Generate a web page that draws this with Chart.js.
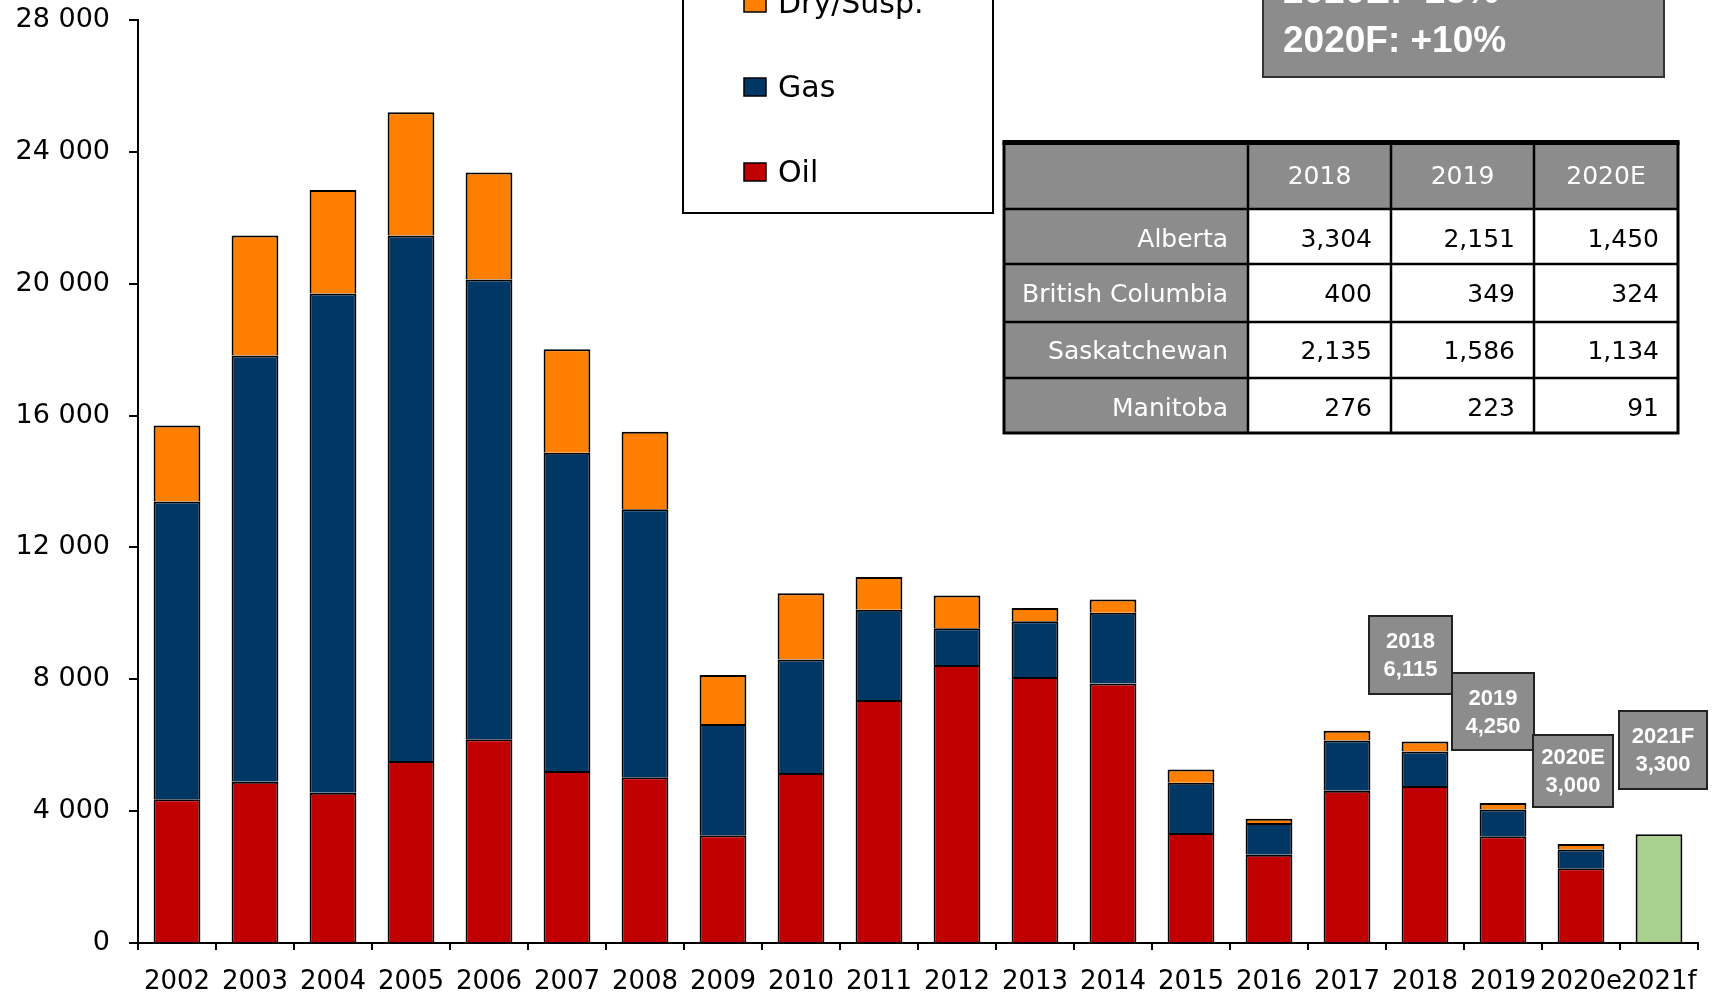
<!DOCTYPE html>
<html>
<head>
<meta charset="utf-8">
<script src="https://cdn.jsdelivr.net/npm/chart.js@4.4.1/dist/chart.umd.min.js"></script>
<style>
  html, body { margin: 0; padding: 0; background: #ffffff; }
  #wrap { width: 1713px; height: 993px; position: relative; }
</style>
</head>
<body>
<div id="wrap"><canvas id="c" width="1713" height="993"></canvas></div>
<script>
// ---- data ----
const categories = ['2002','2003','2004','2005','2006','2007','2008','2009','2010','2011','2012','2013','2014','2015','2016','2017','2018','2019','2020e','2021f'];
const oilWells = [4360,4890,4560,5520,6180,5220,5030,3270,5160,7370,8430,8070,7870,3340,2680,4620,4760,3240,2270,null];
const gasWells = [9030,12930,15140,15940,13950,9650,8130,3370,3440,2740,1120,1690,2150,1520,960,1520,1050,810,570,null];
const dryWells = [2310,3640,3140,3740,3240,3140,2350,1490,2010,990,990,400,400,400,130,300,305,200,160,null];
const forecastWells = [null,null,null,null,null,null,null,null,null,null,null,null,null,null,null,null,null,null,null,3300];
const yTickLabels = ['0','4 000','8 000','12 000','16 000','20 000','24 000','28 000'];

const headerLines = ['2020E: -25%', '2020F: +10%'];
const tableYears = ['2018','2019','2020E'];
const provinces = ['Alberta','British Columbia','Saskatchewan','Manitoba'];
const albertaWells = [3304,2151,1450];
const bcWells = [400,349,324];
const saskWells = [2135,1586,1134];
const manitobaWells = [276,223,91];
const calloutYears = ['2018','2019','2020E','2021F'];
const calloutTotals = ['6,115','4,250','3,000','3,300'];

// ---- styles / layout ----
const COL_OIL = '#c00000', COL_GAS = '#003764', COL_DRY = '#ff8000', COL_FC = '#a9d08e';
const GRAY = '#8c8c8c';
const FONT = '"DejaVu Sans", sans-serif';
const BOLD = '"Liberation Sans", Arial, sans-serif';

const overlay = {
  id: 'overlay',
  afterDraw(chart) {
    const ctx = chart.ctx;
    ctx.save();

    // legend box
    ctx.fillStyle = '#fff'; ctx.strokeStyle = '#000'; ctx.lineWidth = 2;
    ctx.fillRect(683, -10, 310, 223); ctx.strokeRect(683, -10, 310, 223);
    const legendOrder = [2, 1, 0]; // dry, gas, oil
    const baselines = [13, 97, 182];
    ctx.font = '30px ' + FONT; ctx.textBaseline = 'alphabetic'; ctx.textAlign = 'left';
    legendOrder.forEach((di, k) => {
      const ds = chart.data.datasets[di];
      const b = baselines[k];
      ctx.fillStyle = ds.backgroundColor; ctx.fillRect(744, b - 19, 22, 18);
      ctx.lineWidth = 1.5; ctx.strokeStyle = '#000'; ctx.strokeRect(744, b - 19, 22, 18);
      ctx.fillStyle = '#000'; ctx.fillText(ds.label, 778, b);
    });

    // top-right box
    ctx.fillStyle = GRAY; ctx.fillRect(1263, -10, 401, 87);
    ctx.strokeStyle = '#333'; ctx.lineWidth = 2; ctx.strokeRect(1263, -10, 401, 87);
    ctx.fillStyle = '#fff'; ctx.font = 'bold 37px ' + BOLD;
    ctx.fillText(headerLines[0], 1283, 3);
    ctx.fillText(headerLines[1], 1283, 52);

    // table
    const cx = [1004, 1248, 1391, 1534, 1678];
    const ry = [143, 209, 264, 322, 378, 433];
    const rows = [albertaWells, bcWells, saskWells, manitobaWells];
    ctx.fillStyle = GRAY;
    ctx.fillRect(cx[0], ry[0], cx[4] - cx[0], ry[1] - ry[0]);
    ctx.fillRect(cx[0], ry[1], cx[1] - cx[0], ry[5] - ry[1]);
    ctx.fillStyle = '#fff';
    ctx.fillRect(cx[1], ry[1], cx[4] - cx[1], ry[5] - ry[1]);
    ctx.strokeStyle = '#000'; ctx.lineWidth = 2.5;
    ctx.beginPath();
    for (let i = 1; i < 5; i++) { ctx.moveTo(cx[0], ry[i]); ctx.lineTo(cx[4], ry[i]); }
    for (let j = 1; j < 4; j++) { ctx.moveTo(cx[j], ry[0]); ctx.lineTo(cx[j], ry[5]); }
    ctx.stroke();
    ctx.lineWidth = 3; ctx.strokeRect(cx[0], ry[0], cx[4] - cx[0], ry[5] - ry[0]);
    ctx.fillStyle = '#000'; ctx.fillRect(cx[0] - 1.5, ry[0] - 3, cx[4] - cx[0] + 3, 5);
    ctx.font = '25px ' + FONT; ctx.textBaseline = 'middle';
    ctx.fillStyle = '#fff'; ctx.textAlign = 'center';
    tableYears.forEach((y, j) => ctx.fillText(y, (cx[j + 1] + cx[j + 2]) / 2, 177));
    const rowMid = [240, 295, 352, 409];
    provinces.forEach((p, i) => {
      ctx.fillStyle = '#fff'; ctx.textAlign = 'right';
      ctx.fillText(p, cx[1] - 20, rowMid[i]);
      ctx.fillStyle = '#000';
      rows[i].forEach((v, j) => ctx.fillText(v.toLocaleString('en-US'), cx[j + 2] - 19, rowMid[i]));
    });

    // callout boxes
    const boxes = [[1369, 616, 1452, 694], [1452, 673, 1534, 750], [1533, 735, 1613, 807], [1619, 711, 1707, 789]];
    ctx.font = 'bold 22px ' + BOLD; ctx.textAlign = 'center'; ctx.textBaseline = 'middle';
    boxes.forEach((b, i) => {
      ctx.fillStyle = GRAY; ctx.fillRect(b[0], b[1], b[2] - b[0], b[3] - b[1]);
      ctx.strokeStyle = '#222'; ctx.lineWidth = 2; ctx.strokeRect(b[0], b[1], b[2] - b[0], b[3] - b[1]);
      const mx = (b[0] + b[2]) / 2, my = (b[1] + b[3]) / 2;
      ctx.fillStyle = '#fff';
      ctx.fillText(calloutYears[i], mx, my - 13);
      ctx.fillText(calloutTotals[i], mx, my + 15);
    });
    ctx.restore();
  }
};

const barCommon = { borderColor: '#000', borderWidth: 2, barPercentage: 0.6, categoryPercentage: 1.0, stack: 's' };

new Chart(document.getElementById('c'), {
  type: 'bar',
  data: {
    labels: categories,
    datasets: [
      Object.assign({ label: 'Oil', data: oilWells, backgroundColor: COL_OIL }, barCommon),
      Object.assign({ label: 'Gas', data: gasWells, backgroundColor: COL_GAS }, barCommon),
      Object.assign({ label: 'Dry/Susp.', data: dryWells, backgroundColor: COL_DRY }, barCommon),
      Object.assign({ label: 'Forecast', data: forecastWells, backgroundColor: COL_FC }, barCommon)
    ]
  },
  options: {
    responsive: false,
    animation: false,
    layout: { padding: { top: 20, right: 15, left: 0, bottom: 0 } },
    plugins: { legend: { display: false }, tooltip: { enabled: false } },
    scales: {
      x: {
        stacked: true,
        afterFit: s => { s.height = 50; s.paddingLeft = 0; s.paddingRight = 0; },
        grid: { offset: true, drawOnChartArea: false, drawTicks: true, tickLength: 7, tickColor: '#000', lineWidth: 2 },
        border: { display: true, color: '#000', width: 2 },
        ticks: { color: '#000', font: { family: FONT, size: 26 }, padding: 17, maxRotation: 0, minRotation: 0, autoSkip: false }
      },
      y: {
        stacked: true,
        min: 0, max: 28000,
        afterFit: s => { s.width = 138; s.paddingTop = 0; s.paddingBottom = 0; },
        grid: { drawOnChartArea: false, drawTicks: true, tickLength: 9, tickColor: '#000', lineWidth: 2 },
        border: { display: true, color: '#000', width: 2 },
        ticks: {
          stepSize: 4000, color: '#000', padding: 19,
          font: { family: FONT, size: 27 },
          callback: (v, i) => yTickLabels[i]
        }
      }
    }
  },
  plugins: [overlay]
});
</script>
</body>
</html>
